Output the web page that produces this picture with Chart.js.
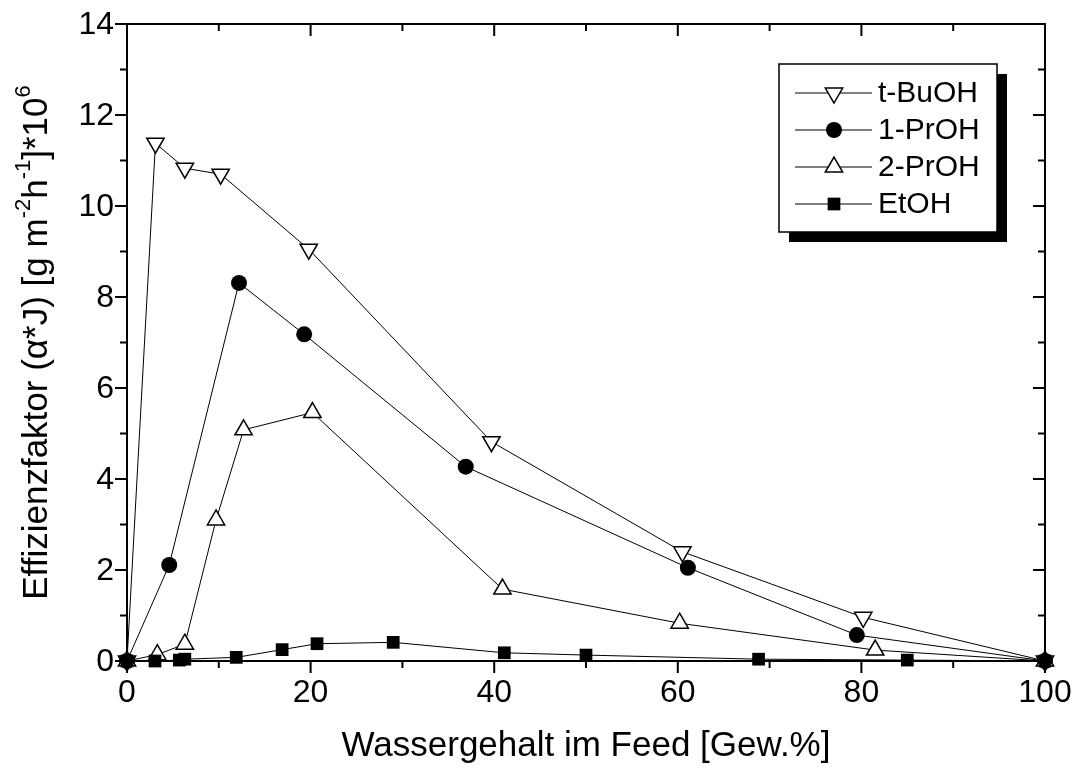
<!DOCTYPE html>
<html>
<head>
<meta charset="utf-8">
<script src="https://cdn.jsdelivr.net/npm/chart.js@4.4.1/dist/chart.umd.min.js"></script>
<style>
  html, body { margin: 0; padding: 0; background: #fff; }
  #wrap { width: 1077px; height: 771px; position: relative; }
</style>
</head>
<body>
<div id="wrap"><canvas id="chart" width="1077" height="771"></canvas></div>
<script>
// values (x = Wassergehalt, y = Effizienzfaktor)
const tBuOH_x = [0, 3.1, 6.3, 10.2, 19.8, 39.7, 60.5, 80.2, 100];
const tBuOH_y = [0, 11.38, 10.83, 10.70, 9.05, 4.82, 2.40, 0.96, 0];

const prOH1_x = [0, 4.6, 12.2, 19.3, 36.9, 61.1, 79.5, 100];
const prOH1_y = [0, 2.11, 8.31, 7.18, 4.27, 2.05, 0.57, 0];

const prOH2_x = [0, 3.3, 6.3, 9.7, 12.7, 20.2, 40.9, 60.2, 81.5, 100];
const prOH2_y = [0, 0.14, 0.37, 3.1, 5.08, 5.46, 1.58, 0.83, 0.24, 0];

const etOH_x = [0, 3.05, 5.7, 6.3, 11.9, 16.9, 20.7, 29.0, 41.1, 50.0, 68.8, 85.0, 100];
const etOH_y = [0, 0.0, 0.02, 0.04, 0.08, 0.25, 0.38, 0.41, 0.18, 0.13, 0.04, 0.02, 0];

const xTicks = [0, 20, 40, 60, 80, 100];
const yTicks = [0, 2, 4, 6, 8, 10, 12, 14];

const FONT = "'Liberation Sans', Arial, sans-serif";

const pts = (xs, ys) => xs.map((x, i) => ({ x, y: ys[i] }));

const baseStyle = {
	showLine: true,
	borderColor: '#000',
	borderWidth: 1,
	pointBorderColor: '#000',
	pointBorderWidth: 1.5,
	clip: false,
	tension: 0,
};

const datasets = [
	{ ...baseStyle, label: 'EtOH', data: pts(etOH_x, etOH_y), pointStyle: 'rect', pointRadius: 9, pointBackgroundColor: '#000', pointBorderWidth: 0 },
	{ ...baseStyle, label: '2-PrOH', data: pts(prOH2_x, prOH2_y), pointStyle: 'triangle', pointRadius: 10, pointBackgroundColor: '#fff' },
	{ ...baseStyle, label: '1-PrOH', data: pts(prOH1_x, prOH1_y), pointStyle: 'circle', pointRadius: 8, pointBackgroundColor: '#000', pointBorderWidth: 0 },
	{ ...baseStyle, label: 't-BuOH', data: pts(tBuOH_x, tBuOH_y), pointStyle: 'triangle', pointRotation: 180, pointRadius: 10, pointBackgroundColor: '#fff' },
];

// axis frame, ticks, tick labels, legend box and axis titles
const framePlugin = {
	id: 'frame',
	afterDraw(chart) {
		const ctx = chart.ctx;
		const { left, right, top, bottom } = chart.chartArea;
		const xs = chart.scales.x, ys = chart.scales.y;
		ctx.save();
		ctx.strokeStyle = '#000';
		ctx.lineWidth = 2;
		ctx.strokeRect(left, top, right - left, bottom - top);

		ctx.beginPath();
		for (let v = 0; v <= 100; v += 10) {
			const px = xs.getPixelForValue(v);
			const len = v % 20 === 0 ? 12 : 7;
			ctx.moveTo(px, bottom); ctx.lineTo(px, bottom + len);
			ctx.moveTo(px, top); ctx.lineTo(px, top + len);
		}
		for (let v = 0; v <= 14; v += 1) {
			const py = ys.getPixelForValue(v);
			const len = v % 2 === 0 ? 12 : 7;
			ctx.moveTo(left, py); ctx.lineTo(left - len, py);
			ctx.moveTo(right, py); ctx.lineTo(right - len, py);
		}
		ctx.stroke();

		// tick labels
		ctx.fillStyle = '#000';
		ctx.font = '32px ' + FONT;
		ctx.textAlign = 'center';
		ctx.textBaseline = 'top';
		xTicks.forEach((v) => ctx.fillText(String(v), xs.getPixelForValue(v), bottom + 16));
		ctx.textAlign = 'right';
		ctx.textBaseline = 'middle';
		yTicks.forEach((v) => ctx.fillText(String(v), left - 13, ys.getPixelForValue(v) + 1));

		// legend with drop shadow
		const lx = 779, ly = 64, lw = 218, lh = 168;
		ctx.fillStyle = '#000';
		ctx.fillRect(lx + 10, ly + 10, lw, lh);
		ctx.fillStyle = '#fff';
		ctx.fillRect(lx, ly, lw, lh);
		ctx.lineWidth = 1.5;
		ctx.strokeRect(lx, ly, lw, lh);

		const order = [3, 2, 1, 0];
		order.forEach((di, row) => {
			const ds = chart.data.datasets[di];
			const y = 93 + row * 37;
			ctx.strokeStyle = '#000';
			ctx.lineWidth = 1;
			ctx.beginPath();
			ctx.moveTo(795, y); ctx.lineTo(872, y);
			ctx.stroke();
			ctx.fillStyle = ds.pointBackgroundColor;
			ctx.strokeStyle = '#000';
			ctx.lineWidth = ds.pointBorderWidth;
			Chart.helpers.drawPoint(ctx, {
				pointStyle: ds.pointStyle,
				rotation: ds.pointRotation || 0,
				radius: ds.pointRadius,
				borderWidth: ds.pointBorderWidth,
			}, 834, y);
			ctx.fillStyle = '#000';
			ctx.font = '30px ' + FONT;
			ctx.textAlign = 'left';
			ctx.textBaseline = 'middle';
			ctx.fillText(ds.label, 878, y + 1);
		});

		// x axis title
		ctx.fillStyle = '#000';
		ctx.font = '35px ' + FONT;
		ctx.textAlign = 'center';
		ctx.textBaseline = 'middle';
		ctx.fillText('Wassergehalt im Feed [Gew.%]', (left + right) / 2, 746);

		// y axis title with superscripts
		const parts = [
			['Effizienzfaktor (α*J) [g m', false],
			['-2', true],
			['h', false],
			['-1', true],
			[']*10', false],
			['6', true],
		];
		const fN = '35px ' + FONT, fS = '22px ' + FONT;
		let total = 0;
		parts.forEach(([t, s]) => { ctx.font = s ? fS : fN; total += ctx.measureText(t).width; });
		ctx.translate(37, (top + bottom) / 2);
		ctx.rotate(-Math.PI / 2);
		ctx.textAlign = 'left';
		let cx = -total / 2;
		parts.forEach(([t, s]) => {
			ctx.font = s ? fS : fN;
			ctx.fillText(t, cx, s ? -13 : 0);
			cx += ctx.measureText(t).width;
		});
		ctx.restore();
	},
};

new Chart('chart', {
	type: 'scatter',
	data: { datasets },
	options: {
		responsive: false,
		animation: false,
		devicePixelRatio: 1,
		layout: { padding: { left: 127, top: 24, right: 32, bottom: 110 } },
		plugins: { legend: { display: false }, tooltip: { enabled: false } },
		scales: {
			x: { type: 'linear', min: 0, max: 100, display: false },
			y: { type: 'linear', min: 0, max: 14, display: false },
		},
	},
	plugins: [framePlugin],
});
</script>
</body>
</html>
